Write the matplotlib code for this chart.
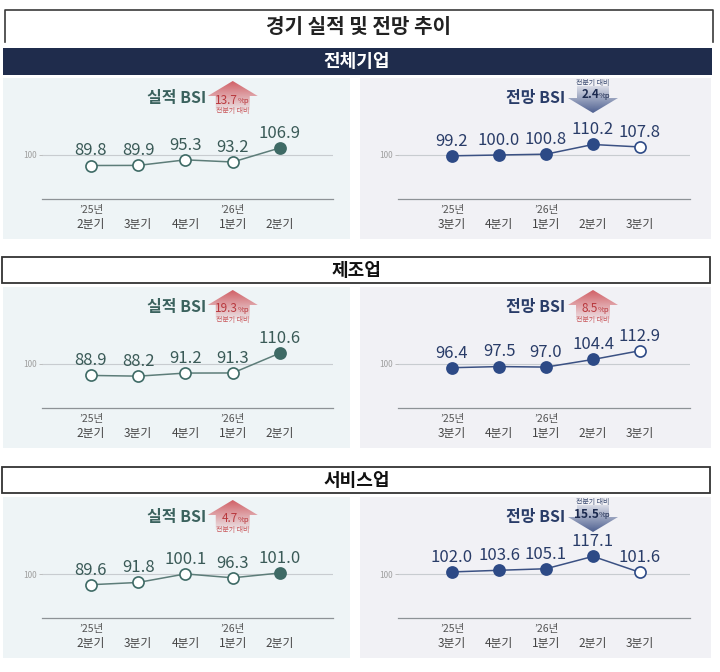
import matplotlib.pyplot as plt
import matplotlib.colors as mcolors
import numpy as np
from matplotlib.patches import Rectangle, Polygon

plt.rcParams['font.family'] = ['Noto Sans CJK KR', 'DejaVu Sans']

W, H = 720, 672

# data
sectors = ['전체기업', '제조업', '서비스업']
actual_quarters = ['2분기', '3분기', '4분기', '1분기', '2분기']
actual_years = ['’25년', '', '', '’26년', '']
outlook_quarters = ['3분기', '4분기', '1분기', '2분기', '3분기']
outlook_years = ['’25년', '', '’26년', '', '']

total_actual = [89.8, 89.9, 95.3, 93.2, 106.9]
total_outlook = [99.2, 100.0, 100.8, 110.2, 107.8]
mfg_actual = [88.9, 88.2, 91.2, 91.3, 110.6]
mfg_outlook = [96.4, 97.5, 97.0, 104.4, 112.9]
svc_actual = [89.6, 91.8, 100.1, 96.3, 101.0]
svc_outlook = [102.0, 103.6, 105.1, 117.1, 101.6]

actual_series = [total_actual, mfg_actual, svc_actual]
outlook_series = [total_outlook, mfg_outlook, svc_outlook]

# colours
TEAL = '#3b625e'
TEAL_LINE = '#5d7d79'
TEAL_MARK = '#3e6a65'
NAVY = '#2d4a86'
NAVY_TXT = '#293c68'
RED = '#d0585e'
RED_TXT = '#b9383d'
DOWN = '#4f6191'

fig = plt.figure(figsize=(7.2, 6.72), dpi=100)
bg = fig.add_axes([0, 0, 1, 1])
bg.axis('off')


def rect(x0, y0, x1, y1):
    return [x0 / W, 1 - y1 / H, (x1 - x0) / W, (y1 - y0) / H]


def gradient_poly(pts, color, a_top, a_bot):
    poly = Polygon(pts, closed=True, fc='none', ec='none')
    bg.add_patch(poly)
    xs = [p[0] for p in pts]
    ys = [p[1] for p in pts]
    grad = np.zeros((64, 1, 4))
    grad[..., :3] = mcolors.to_rgb(color)
    grad[:, 0, 3] = np.linspace(a_top, a_bot, 64)
    im = bg.imshow(grad, extent=(min(xs), max(xs), max(ys), min(ys)),
                   aspect='auto', interpolation='bilinear', zorder=2)
    im.set_clip_path(poly)


def badge(cx, top, change):
    txt = f'{abs(change):.1f}'
    if change > 0:
        pts = [(cx, top + 3), (cx + 25, top + 18), (cx + 17, top + 18), (cx + 17, top + 32),
               (cx - 17, top + 32), (cx - 17, top + 18), (cx - 25, top + 18)]
        gradient_poly(pts, RED, 0.95, 0.12)
        bg.text(cx + 5, top + 22, txt, ha='right', va='center', fontsize=8.5, color=RED_TXT, zorder=3)
        bg.text(cx + 5, top + 23, '%p', ha='left', va='center', fontsize=5.5, color=RED_TXT, zorder=3)
        bg.text(cx, top + 33, '전분기 대비', ha='center', va='center', fontsize=5, color='#c9575b', zorder=3)
    else:
        pts = [(cx - 16, top + 8), (cx + 16, top + 8), (cx + 16, top + 20), (cx + 25, top + 20),
               (cx, top + 35), (cx - 25, top + 20), (cx - 16, top + 20)]
        gradient_poly(pts, DOWN, 0.15, 1.0)
        bg.text(cx + 6, top + 17, txt, ha='right', va='center', fontsize=8.5, color='#1c2a4f',
                fontweight='bold', zorder=3)
        bg.text(cx + 6, top + 18, '%p', ha='left', va='center', fontsize=5.5, color='#1c2a4f', zorder=3)
        bg.text(cx, top + 5, '전분기 대비', ha='center', va='center', fontsize=5, color='#3a4a70', zorder=3)


# title
bg.plot([5, 5, 713, 713], [42, 10, 10, 42], color='#3a3a3a', lw=1.2)
bg.text(359, 26, '경기 실적 및 전망 추이', ha='center', va='center', fontsize=14.5,
        fontweight='bold', color='#222222')

tops = [78, 287, 497]
header_tops = [48, 257, 467]
k = 1.03  # px per BSI point

panels = [
    dict(px=(3, 350), ax=(42, 333), i0=91, step=47.25, title='실적 BSI', kind='actual',
         bgc='#eef4f6', tc=TEAL, lc=TEAL_LINE, mc=TEAL_MARK, vc='#3a5a57',
         quarters=actual_quarters, years=actual_years),
    dict(px=(360, 711), ax=(398, 690), i0=452, step=47.0, title='전망 BSI', kind='outlook',
         bgc='#f1f1f5', tc=NAVY_TXT, lc='#3b5183', mc=NAVY, vc=NAVY_TXT,
         quarters=outlook_quarters, years=outlook_years),
]

for r, sector in enumerate(sectors):
    T = tops[r]
    hy = header_tops[r]
    if r == 0:
        bg.add_patch(Rectangle((3, hy), 709, 27, fc='#1f2c4c', ec='none'))
        bg.text(357, hy + 13.5, sector, ha='center', va='center', fontsize=13,
                fontweight='bold', color='white')
    else:
        bg.add_patch(Rectangle((2, hy), 708, 26, fc='white', ec='#333333', lw=1.3))
        bg.text(357, hy + 13, sector, ha='center', va='center', fontsize=13,
                fontweight='bold', color='#111111')

    for p in panels:
        vals = actual_series[r] if p['kind'] == 'actual' else outlook_series[r]
        x0, x1 = p['px']
        bg.add_patch(Rectangle((x0, T), x1 - x0, 161, fc=p['bgc'], ec='none', zorder=0))
        bg.text((x0 + x1) / 2, T + 20, p['title'], ha='center', va='center', fontsize=11.5,
                fontweight='bold', color=p['tc'])
        badge(p['i0'] + 3 * p['step'], T, vals[4] - vals[3])

        a0, a1 = p['ax']
        ax = fig.add_axes(rect(a0, T + 35, a1, T + 121))
        ax.patch.set_alpha(0)
        ax.set_xlim((a0 - p['i0']) / p['step'], (a1 - p['i0']) / p['step'])
        ax.set_ylim(100 - 44 / k, 100 + 42 / k)
        for s in ['top', 'right', 'left']:
            ax.spines[s].set_visible(False)
        ax.spines['bottom'].set_color('#8d9296')
        ax.spines['bottom'].set_linewidth(0.9)

        ax.axhline(100, color='#c8ccd0', lw=0.8, zorder=1)
        ax.plot(range(5), vals, color=p['lc'], lw=1.1, zorder=2)
        for i, v in enumerate(vals):
            filled = (i == 4) if p['kind'] == 'actual' else (i < 4)
            ax.plot(i, v, 'o', ms=8, mfc=p['mc'] if filled else 'white', mec=p['mc'],
                    mew=1.2, zorder=3, clip_on=False)
            ax.annotate(f'{v:.1f}', (i, v), xytext=(0, 10.5), textcoords='offset points',
                        ha='center', va='center', fontsize=12, fontweight='medium',
                        color=p['vc'])
            if p['years'][i]:
                ax.annotate(p['years'][i], (i, 0), xycoords=('data', 'axes fraction'),
                            xytext=(0, -8), textcoords='offset points', ha='center',
                            va='center', fontsize=7.5, color='#555555')

        ax.set_yticks([100])
        ax.set_yticklabels(['100'])
        ax.tick_params(axis='y', length=2.5, width=0.6, color='#b5b5b5', labelsize=6,
                       labelcolor='#a0a0a0', pad=1)
        ax.set_xticks(range(5))
        ax.set_xticklabels(p['quarters'])
        ax.tick_params(axis='x', length=0, pad=14, labelsize=8.5, labelcolor='#454545')

bg.set_xlim(0, W)
bg.set_ylim(H, 0)

fig.savefig('out.png', dpi=100)
